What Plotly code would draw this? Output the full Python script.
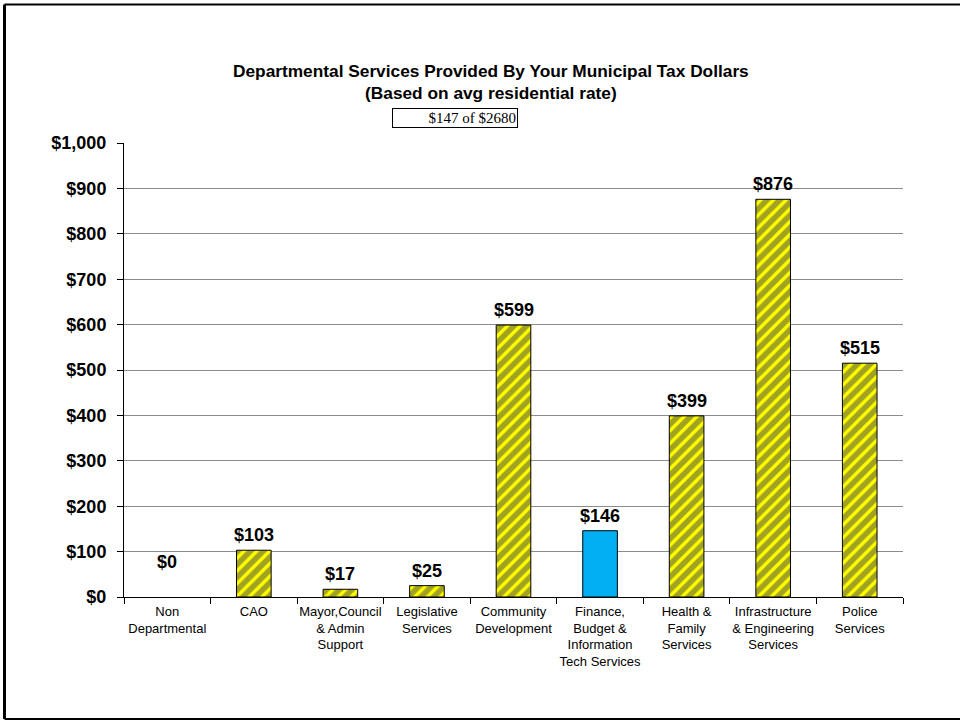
import plotly.graph_objects as go

# Departmental spending per average residential tax bill
departments = [
    "Non<br>Departmental",
    "CAO",
    "Mayor,Council<br>& Admin<br>Support",
    "Legislative<br>Services",
    "Community<br>Development",
    "Finance,<br>Budget &<br>Information<br>Tech Services",
    "Health &<br>Family<br>Services",
    "Infrastructure<br>& Engineering<br>Services",
    "Police<br>Services",
]
amounts = [0, 103, 17, 25, 599, 146, 399, 876, 515]
highlighted = "Finance,<br>Budget &<br>Information<br>Tech Services"

y_ticks = [0, 100, 200, 300, 400, 500, 600, 700, 800, 900, 1000]
title_lines = [
    "Departmental Services Provided By Your Municipal Tax Dollars",
    "(Based on avg residential rate)",
]
share_text = "$147 of $2680"

positions = list(range(len(departments)))
YELLOW = "#FFFF00"
BLUE = "#00B0F0"

fill_colors = [BLUE if d == highlighted else YELLOW for d in departments]
pattern_shapes = ["" if d == highlighted else "/" for d in departments]
outline_widths = [1 if v > 0 else 0 for v in amounts]

fig = go.Figure()
fig.add_trace(
    go.Bar(
        x=positions,
        y=amounts,
        width=0.4,
        marker=dict(
            color=fill_colors,
            line=dict(color="black", width=outline_widths),
            pattern=dict(
                shape=pattern_shapes,
                fgcolor="black",
                bgcolor=fill_colors,
                size=9,
                solidity=0.62,
                fillmode="overlay",
            ),
        ),
        hoverinfo="skip",
    )
)

# Value labels above each bar
for xpos, v in zip(positions, amounts):
    fig.add_annotation(
        x=xpos,
        y=v,
        xref="x",
        yref="y",
        text=f"${v:,}",
        showarrow=False,
        yanchor="middle",
        yshift=15 if v > 0 else 35,
        font=dict(family="Liberation Sans, Arial", size=18, color="black", weight="bold"),
    )

# Title block
fig.add_annotation(
    x=0.4705, y=1.134, xref="paper", yref="paper",
    text="<br>".join(f"<b>{t}</b>" for t in title_lines),
    showarrow=False, xanchor="center", yanchor="middle",
    font=dict(family="Liberation Sans, Arial", size=17.3, color="black"),
)
fig.add_annotation(
    x=0.4243, y=1.055, xref="paper", yref="paper",
    text=share_text,
    showarrow=False, xanchor="center", yanchor="middle",
    width=122, align="right",
    bordercolor="black", borderwidth=1, borderpad=1,
    bgcolor="white",
    font=dict(family="Liberation Serif, Times New Roman", size=15, color="black"),
)

# Page frame
frame = dict(type="line", xref="paper", yref="paper", line=dict(color="black"))
fig.add_shape(**frame, x0=-0.1534, x1=-0.1534, y0=-0.2687, y1=1.305, line_width=3)
fig.add_shape(**frame, x0=-0.1534, x1=1.08, y0=1.305, y1=1.305, line_width=2)
fig.add_shape(**frame, x0=-0.1534, x1=1.08, y0=-0.2687, y1=-0.2687, line_width=2)

fig.update_layout(
    width=960,
    height=721,
    margin=dict(l=124, r=57, t=143, b=124),
    paper_bgcolor="white",
    plot_bgcolor="white",
    showlegend=False,
    xaxis=dict(
        range=[-0.5, len(departments) - 0.5],
        tickvals=positions,
        ticktext=departments,
        tickangle=0,
        ticks="",
        ticklabelstandoff=2,
        showgrid=False,
        zeroline=False,
        showline=True,
        linecolor="black",
        linewidth=1,
        tickfont=dict(family="Liberation Sans, Arial", size=13, color="black"),
        minor=dict(
            tick0=-0.5, dtick=1, ticks="outside", ticklen=6,
            tickcolor="black", showgrid=False,
        ),
        fixedrange=True,
    ),
    yaxis=dict(
        range=[0, 1000],
        tickvals=y_ticks,
        ticktext=[f"<b>${v:,}</b>" for v in y_ticks],
        ticks="outside",
        ticklen=6,
        tickcolor="black",
        ticklabelstandoff=7,
        showline=True,
        linecolor="black",
        linewidth=1,
        showgrid=True,
        gridcolor="#8c8c8c",
        gridwidth=1,
        zeroline=False,
        tickfont=dict(family="Liberation Sans, Arial", size=18, color="black"),
        fixedrange=True,
    ),
)

fig.write_html("out.html")
